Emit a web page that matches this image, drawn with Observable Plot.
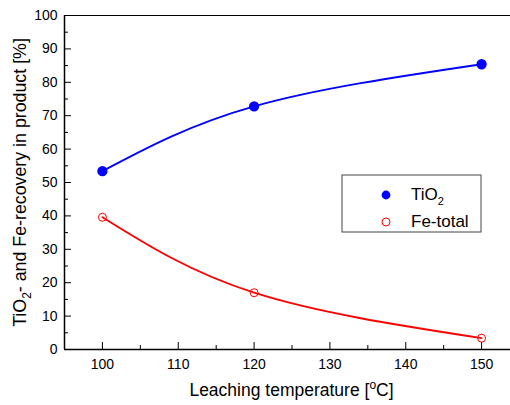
<!DOCTYPE html>
<html><head><meta charset="utf-8">
<script src="https://cdn.jsdelivr.net/npm/d3@7"></script>
<script src="https://cdn.jsdelivr.net/npm/@observablehq/plot@0.6"></script>
<style>
html,body{margin:0;padding:0;overflow:hidden;background:#fff;}
#chart{width:510px;height:405px;overflow:hidden;}
#chart svg{max-width:none !important;width:520px !important;height:405px !important;display:block;}
</style>
</head><body><div id="chart"></div>
<script>
const temperatures = [100, 120, 150];
const tio2Recovery = [53.4, 72.8, 85.4];
const feRecovery = [39.6, 17.0, 3.4];
const seriesNames = ["TiO2", "Fe-total"];
const seriesColors = ["#0000ff", "#ff0000"];
const xMajorTicks = [100, 110, 120, 130, 140, 150];
const xMinorTicks = [95, 105, 115, 125, 135, 145, 155];
const yMajorTicks = [0, 10, 20, 30, 40, 50, 60, 70, 80, 90, 100];
const yMinorTicks = [5, 15, 25, 35, 45, 55, 65, 75, 85, 95];
const xDomain = [95, 155];
const yDomain = [0, 100];

const rows = [
  ...temperatures.map((t, i) => ({temp: t, value: tio2Recovery[i], series: seriesNames[0]})),
  ...temperatures.map((t, i) => ({temp: t, value: feRecovery[i], series: seriesNames[1]}))
];

const W = 520, H = 405, mL = 64, mR = 1, mT = 15, mB = 56;
const pw = W - mL - mR, ph = H - mT - mB;

const chart = Plot.plot({
  width: W, height: H, marginLeft: mL, marginRight: mR, marginTop: mT, marginBottom: mB,
  style: {fontFamily: "'Liberation Sans', Arial, sans-serif", background: "#fff", color: "#000", overflow: "visible"},
  x: {domain: xDomain},
  y: {domain: yDomain},
  color: {domain: seriesNames, range: seriesColors},
  marks: [
    Plot.ruleX(xMajorTicks, {insetTop: ph - 7, stroke: "#000", strokeWidth: 1}),
    Plot.ruleX(xMinorTicks, {insetTop: ph - 4, stroke: "#000", strokeWidth: 1}),
    Plot.ruleY(yMajorTicks, {insetRight: pw - 7, stroke: "#000", strokeWidth: 1}),
    Plot.ruleY(yMinorTicks, {insetRight: pw - 4, stroke: "#000", strokeWidth: 1}),
    Plot.ruleY([yDomain[1]], {stroke: "#000", strokeWidth: 1}),
    Plot.ruleX([xDomain[0]], {stroke: "#000", strokeWidth: 1.5}),
    Plot.ruleY([yDomain[0]], {stroke: "#000", strokeWidth: 1.5}),
    Plot.axisX(xMajorTicks, {tickSize: 0, tickPadding: 10, fontSize: 14, label: null}),
    Plot.axisY(yMajorTicks, {tickSize: 0, tickPadding: 7, fontSize: 14, label: null}),
    Plot.line(rows, {x: "temp", y: "value", z: "series", stroke: "series", curve: "natural", strokeWidth: 1.8}),
    Plot.dot(rows.filter(d => d.series === seriesNames[0]), {x: "temp", y: "value", r: 4.4, fill: "series", stroke: "series"}),
    Plot.dot(rows.filter(d => d.series === seriesNames[1]), {x: "temp", y: "value", r: 4, fill: "none", stroke: "series", strokeWidth: 1})
  ]
});
document.getElementById("chart").appendChild(chart);

const svg = d3.select(chart);
// x-axis label
const xl = svg.append("text").attr("x", mL + pw / 2).attr("y", 396)
  .attr("text-anchor", "middle").attr("font-size", 17.5).attr("fill", "#000");
xl.append("tspan").text("Leaching temperature [");
xl.append("tspan").attr("dy", -7).attr("font-size", 12).text("o");
xl.append("tspan").attr("dy", 7).text("C]");

// y-axis label
const yl = svg.append("text").attr("transform", `translate(26,${mT + ph / 2 + 0.5}) rotate(-90)`)
  .attr("text-anchor", "middle").attr("font-size", 17.8).attr("fill", "#000");
yl.append("tspan").text("TiO");
yl.append("tspan").attr("dy", 5).attr("font-size", 12).text("2");
yl.append("tspan").attr("dy", -5).text("- and Fe-recovery in product [%]");

// legend
const lg = svg.append("g").attr("text-anchor", "start");
lg.append("rect").attr("x", 342).attr("y", 175).attr("width", 139).attr("height", 57)
  .attr("fill", "#fff").attr("stroke", "#444").attr("stroke-width", 1);
lg.append("circle").attr("cx", 386).attr("cy", 195).attr("r", 4.4).attr("fill", seriesColors[0]);
lg.append("circle").attr("cx", 386).attr("cy", 222).attr("r", 4).attr("fill", "none")
  .attr("stroke", seriesColors[1]).attr("stroke-width", 1);
const t1 = lg.append("text").attr("x", 411).attr("y", 200).attr("font-size", 17).attr("fill", "#000");
t1.append("tspan").text("TiO");
t1.append("tspan").attr("dy", 5).attr("font-size", 11).text("2");
lg.append("text").attr("x", 411).attr("y", 227).attr("font-size", 17).attr("fill", "#000").text(seriesNames[1]);
</script>
</body></html>
